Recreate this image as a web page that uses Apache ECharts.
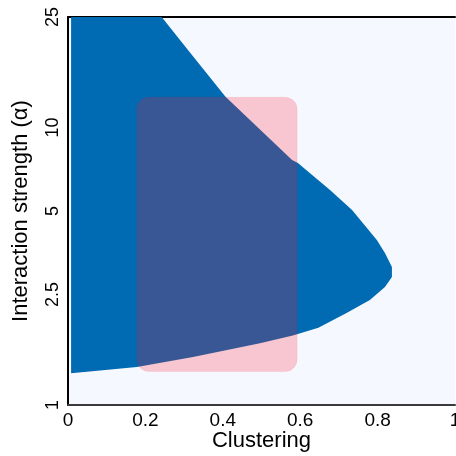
<!DOCTYPE html>
<html><head><meta charset="utf-8">
<script src="https://cdn.jsdelivr.net/npm/echarts@6/dist/echarts.min.js"></script>
<style>html,body{margin:0;padding:0;background:#fff}#c{width:456px;height:456px}</style>
</head><body><div id="c"></div>
<script>
const yTicks = [1, 2.5, 5, 10, 25];
const xTicks = [0, 0.2, 0.4, 0.6, 0.8, 1];
// outline of the blue region, clockwise from top-left
const regionClustering = [0.008, 0.242, 0.31, 0.407, 0.579, 0.594, 0.677, 0.734, 0.798, 0.819, 0.837, 0.837, 0.819, 0.780, 0.721, 0.647, 0.581, 0.496, 0.323, 0.178, 0.008];
const regionAlpha = [25, 25, 19.0, 12.9, 7.63, 7.45, 5.95, 5.04, 3.93, 3.53, 3.14, 2.89, 2.66, 2.39, 2.15, 1.90, 1.78, 1.67, 1.49, 1.37, 1.30];
// highlighted box
const boxClustering = [0.178, 0.592];
const boxAlpha = [1.32, 12.85];

const font = 'Liberation Sans, Arial, sans-serif';
const chart = echarts.init(document.getElementById('c'), null, {renderer: 'canvas'});
chart.setOption({
  animation: false,
  backgroundColor: '#ffffff',
  grid: {left: 68, right: 1, top: 17, bottom: 51, show: true, backgroundColor: '#F5F9FF', borderWidth: 0,
    containLabel: false, outerBoundsMode: 'none'},
  xAxis: [{
    type: 'value', min: 0, max: 1, interval: 0.2, position: 'bottom',
    axisLine: {show: true, lineStyle: {color: '#3a3a3a', width: 2}},
    axisTick: {show: false}, splitLine: {show: false},
    axisLabel: {fontSize: 19, color: '#000', margin: 6, fontFamily: font,
      customValues: xTicks, hideOverlap: false, formatter: v => String(+(+v).toFixed(2))},
    name: 'Clustering', nameLocation: 'middle', nameGap: 25, nameMoveOverlap: false,
    nameTextStyle: {fontSize: 22, color: '#000', fontFamily: font}
  }, {
    type: 'value', min: 0, max: 1, position: 'top',
    axisLine: {show: true, lineStyle: {color: '#000', width: 2}},
    axisTick: {show: false}, splitLine: {show: false}, axisLabel: {show: false}
  }],
  yAxis: {
    type: 'log', logBase: 10, min: 1, max: 25,
    axisLine: {show: true, lineStyle: {color: '#000', width: 2}},
    axisTick: {show: false}, splitLine: {show: false}, minorSplitLine: {show: false},
    axisLabel: {rotate: 90, fontSize: 18, color: '#000', margin: 6, fontFamily: font,
      customValues: yTicks, hideOverlap: false, formatter: v => String(+(+v).toPrecision(3))},
    name: 'Interaction strength (\u03b1)', nameLocation: 'middle', nameGap: 36, nameMoveOverlap: false,
    nameTextStyle: {fontSize: 22, color: '#000', fontFamily: font}
  },
  series: [{
    type: 'custom', xAxisIndex: 0, yAxisIndex: 0, z: 2, clip: true,
    data: [[0, 1]],
    renderItem: function (params, api) {
      const pts = regionClustering.map((c, i) => api.coord([c, regionAlpha[i]]));
      return {type: 'polygon', shape: {points: pts}, style: {fill: '#006BB3', stroke: null}};
    }
  }, {
    type: 'custom', xAxisIndex: 0, yAxisIndex: 0, z: 3, clip: true,
    data: [[0, 1]],
    renderItem: function (params, api) {
      const p0 = api.coord([boxClustering[0], boxAlpha[1]]);
      const p1 = api.coord([boxClustering[1], boxAlpha[0]]);
      return {type: 'rect', shape: {x: p0[0], y: p0[1], width: p1[0] - p0[0], height: p1[1] - p0[1], r: 12},
        style: {fill: 'rgba(255,20,40,0.22)', stroke: 'rgba(255,20,40,0.08)', lineWidth: 1}};
    }
  }]
});
</script></body></html>
